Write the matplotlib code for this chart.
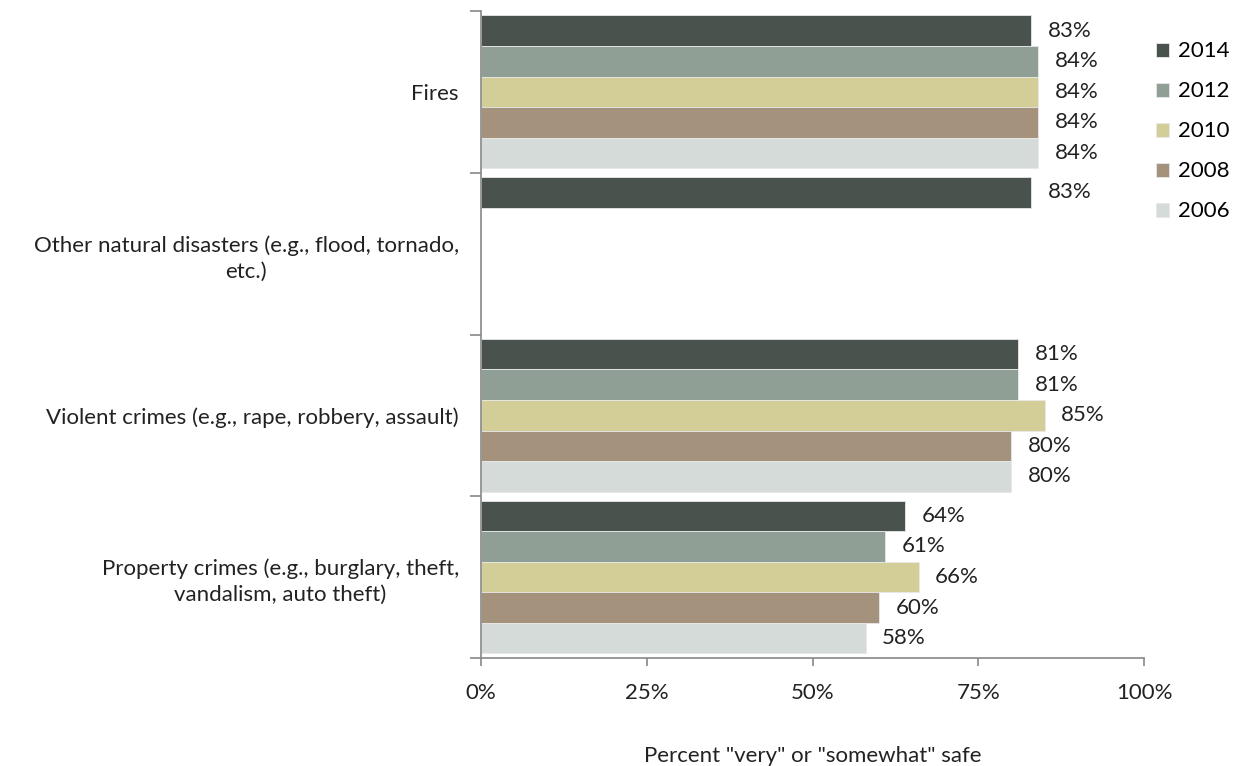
import numpy as np
import matplotlib.pyplot as plt

plt.rcParams['font.family'] = ['Lato', 'DejaVu Sans']

categories = ['Fires',
              'Other natural disasters (e.g., flood, tornado,\netc.)',
              'Violent crimes (e.g., rape, robbery, assault)',
              'Property crimes (e.g., burglary, theft,\nvandalism, auto theft)']
years = ['2014', '2012', '2010', '2008', '2006']
colors = ['#4A524D', '#909F96', '#D3CD98', '#A4927D', '#D5DBD8']

# percent "very" or "somewhat" safe; None = not asked that year
v2014 = [83, 83, 81, 64]
v2012 = [84, None, 81, 61]
v2010 = [84, None, 85, 66]
v2008 = [84, None, 80, 60]
v2006 = [84, None, 80, 58]
series = [v2014, v2012, v2010, v2008, v2006]

fs = 16
fig = plt.figure(figsize=(12.33, 7.66), dpi=100)
ax = fig.add_axes([481/1233, 1-658/766, (1144-481)/1233, (658-11)/766])

bh = 0.189
n = len(categories)
for i, (yr, vals, col) in enumerate(zip(years, series, colors)):
    ys, xs = [], []
    for c, v in enumerate(vals):
        if v is None:
            continue
        ys.append(c + 0.5 - 0.473 + bh * (i + 0.5))
        xs.append(v)
    ax.barh(ys, xs, height=bh, color=col, edgecolor='#e8e8e8', linewidth=0.6, label=yr)
    for y, x in zip(ys, xs):
        ax.text(x + 2.5, y, f'{x}%', va='center', ha='left', fontsize=fs, color='#222222')

ax.set_ylim(n, 0)
ax.set_xlim(0, 100)
ax.set_yticks(np.arange(n + 1))
ax.set_yticklabels([])
ax.set_yticks(np.arange(n) + 0.5, minor=True)
ax.set_yticklabels(categories, minor=True, fontsize=fs, color='#222222',
                   multialignment='center', linespacing=1.35)
ax.tick_params(axis='y', which='minor', length=0, pad=16)
ax.tick_params(axis='y', which='major', length=8, color='#888888', width=1.2)
ax.set_xticks([0, 25, 50, 75, 100])
ax.set_xticklabels(['0%', '25%', '50%', '75%', '100%'], fontsize=fs, color='#222222')
ax.tick_params(axis='x', length=6, color='#888888', width=1.2, pad=12)

for s in ['top', 'right']:
    ax.spines[s].set_visible(False)
for s in ['left', 'bottom']:
    ax.spines[s].set_color('#888888')
    ax.spines[s].set_linewidth(1.2)

ax.set_xlabel('Percent "very" or "somewhat" safe', fontsize=fs, color='#222222', labelpad=31)

ax.legend(loc='upper left', bbox_to_anchor=(1.018, 0.953), frameon=False, fontsize=fs,
          handlelength=0.6, handleheight=0.6, handletextpad=0.4, labelspacing=0.9,
          borderaxespad=0, borderpad=0)

fig.savefig('out.png', dpi=100)
